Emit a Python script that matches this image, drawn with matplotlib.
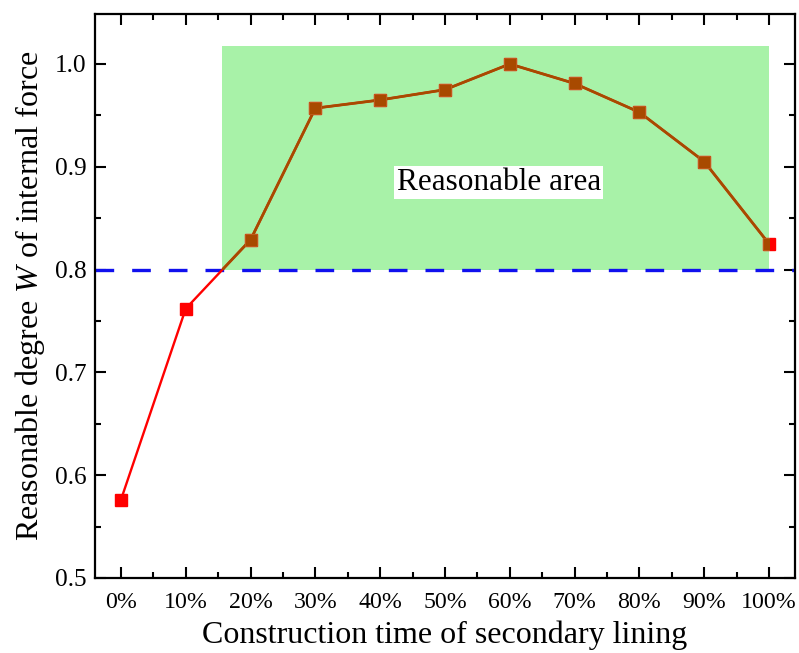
import matplotlib
matplotlib.use("Agg")
import matplotlib.pyplot as plt
from matplotlib.patches import Rectangle
from matplotlib.ticker import MultipleLocator

plt.rcParams['font.family'] = ['Liberation Serif', 'DejaVu Serif']
plt.rcParams['mathtext.fontset'] = 'custom'
plt.rcParams['mathtext.it'] = 'Liberation Serif:italic'
plt.rcParams['mathtext.rm'] = 'Liberation Serif'

x_pct = [0, 10, 20, 30, 40, 50, 60, 70, 80, 90, 100]
x_labels = ['0%', '10%', '20%', '30%', '40%', '50%', '60%', '70%', '80%', '90%', '100%']
w_values = [0.576, 0.762, 0.829, 0.957, 0.965, 0.975, 1.000, 0.981, 0.953, 0.905, 0.825]
threshold = 0.8
area_x = [15.6, 100]
area_y_top = 1.017

fig = plt.figure(figsize=(7.99, 6.53), dpi=100)
ax = fig.add_axes([95/799, 75/653, 700/799, 564/653])

rect = Rectangle((area_x[0], threshold), area_x[1]-area_x[0], area_y_top-threshold,
                 facecolor='#a8f2a8', edgecolor='none', zorder=1)
ax.add_patch(rect)

ax.axhline(threshold, color='#1010ee', lw=2.4, dashes=(5.6, 5.4), zorder=2)

ax.plot(x_pct, w_values, color='#ff0000', lw=1.7, marker='s', ms=8.5,
        mfc='#ff0000', mec='#ff0000', zorder=3, clip_on=False)
brown, = ax.plot(x_pct, w_values, color='#a84a00', lw=2.0, marker='s', ms=8.5,
                 mfc='#a84a00', mec='#c06020', mew=0.6, zorder=4)
clip = Rectangle((area_x[0], threshold), area_x[1]-area_x[0], 0.3,
                 transform=ax.transData)
brown.set_clip_path(clip)

ax.text(58.3, 0.885, 'Reasonable area', fontsize=22.5, ha='center', va='center',
        bbox=dict(facecolor='white', edgecolor='none', pad=1.5), zorder=5)

ax.set_xlim(-4, 104)
ax.set_ylim(0.5, 1.0486)
ax.set_xticks(x_pct)
ax.set_xticklabels(x_labels)
ax.xaxis.set_minor_locator(MultipleLocator(5))
ax.set_yticks([0.5, 0.6, 0.7, 0.8, 0.9, 1.0])
ax.yaxis.set_minor_locator(MultipleLocator(0.05))
ax.tick_params(which='both', direction='in', top=True, right=True,
               width=1.5, pad=6)
ax.tick_params(axis='x', labelsize=17.2, pad=10)
ax.tick_params(axis='y', labelsize=18.2, pad=6)
ax.tick_params(which='major', length=8)
ax.tick_params(which='minor', length=4.3)
for s in ax.spines.values():
    s.set_linewidth(1.6)

ax.set_xlabel('Construction time of secondary lining', fontsize=23, labelpad=5.5)
ax.set_ylabel('Reasonable degree $W$ of internal force', fontsize=23, labelpad=6)

fig.savefig('out.png', dpi=100)
